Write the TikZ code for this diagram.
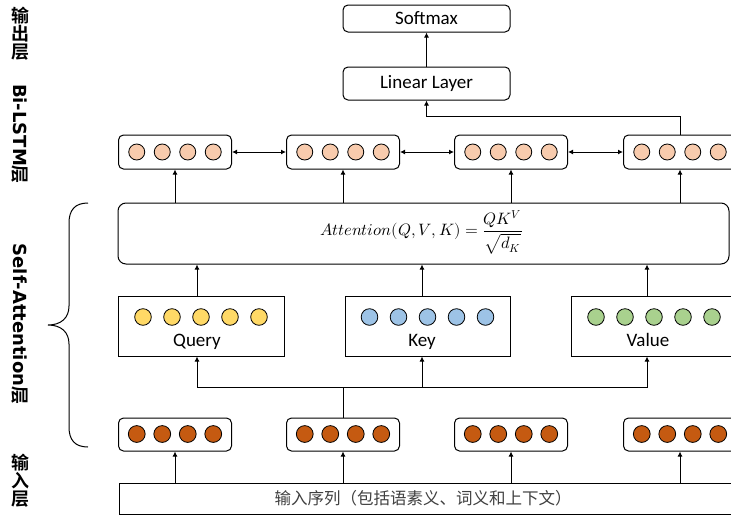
\documentclass[tikz,border=0pt]{standalone}
\usepackage{fontspec}
\usepackage{unicode-math}
\setmainfont{Carlito}
\setmathfont{Latin Modern Math}
\newfontfamily\cjk{Noto Sans CJK SC}
\newfontfamily\cjkb{Noto Sans CJK SC Bold}
\newfontfamily\sidelat{DejaVu Sans}
\usetikzlibrary{arrows.meta}

\definecolor{peach}{HTML}{F8CBAD}
\definecolor{qyel}{HTML}{FFD966}
\definecolor{kblue}{HTML}{9DC3E6}
\definecolor{vgreen}{HTML}{A9D18E}
\definecolor{emb}{HTML}{C55A11}
\definecolor{seqtext}{HTML}{404040}

\begin{document}
\begin{tikzpicture}[x=1pt,y=-1pt,
  line width=1pt,
  arr/.style={-{Latex[length=5pt,width=5pt]}},
  darr/.style={{Latex[length=5pt,width=5pt]}-{Latex[length=5pt,width=5pt]}},
  rbox/.style={draw, rounded corners=5pt, inner sep=0pt},
  sbox/.style={draw, inner sep=0pt},
  lbl/.style={font=\fontsize{19}{22}\selectfont},
  side/.style={font=\cjkb\fontsize{18}{18}\selectfont, inner sep=0pt},
  unit/.style={draw, line width=0.8pt},
]
\clip (0,0) rectangle (731,517);
\fill[white] (0,0) rectangle (731,517);

% output layer
\node[rbox, minimum width=167pt, minimum height=27pt, lbl] (soft) at (426.5,18.5) {Softmax};
\node[rbox, minimum width=167pt, minimum height=33pt, lbl] (lin) at (426.5,83.5) {Linear Layer};

% Bi-LSTM states
\foreach \i/\x in {1/175,2/343,3/511,4/680}{
  \node[rbox, minimum width=113pt, minimum height=34pt] (h\i) at (\x,152) {};
  \foreach \d in {-38.25,-12.75,12.75,38.25}
    \draw[unit, fill=peach] (\x+\d,152) circle (8pt);
}

% self-attention block
\node[rbox, rounded corners=8pt, minimum width=611pt, minimum height=61pt] (att) at (423.5,233.5) {};
\node[font=\fontsize{16.5}{18}\selectfont, inner sep=0pt] (form) at (421.5,232)
  {$\displaystyle Attention(Q,V,K)=\frac{QK^{V}}{\sqrt{d_K}}$};

% query / key / value
\node[sbox, minimum width=166pt, minimum height=60pt] (q) at (201,326) {};
\node[sbox, minimum width=165pt, minimum height=60pt] (k) at (427.5,326) {};
\node[sbox, minimum width=166pt, minimum height=60pt] (v) at (654,326) {};
\foreach \n/\x/\c in {q/201/qyel,k/427.5/kblue,v/654/vgreen}
  \foreach \d in {-58,-29,0,29,58}
    \draw[unit, fill=\c] (\x+\d,317) circle (8.3pt);
\node[lbl, inner sep=0pt, anchor=base] (ql) at (197,346) {Query};
\node[lbl, inner sep=0pt, anchor=base] (kl) at (422,346) {Key};
\node[lbl, inner sep=0pt, anchor=base] (vl) at (648,346) {Value};

% input embeddings
\foreach \i/\x in {1/175,2/343,3/511,4/680}{
  \node[rbox, minimum width=113pt, minimum height=33pt] (e\i) at (\x,434.5) {};
  \foreach \d in {-38.25,-12.75,12.75,38.25}
    \draw[unit, fill=emb] (\x+\d,434) circle (8.4pt);
}

% input sequence
\node[sbox, minimum width=621pt, minimum height=31pt] (seq) at (429.5,498.5) {};
\node[font=\cjk\fontsize{16.5}{18}\selectfont, text=seqtext, inner sep=0pt] (seqt) at (423,498.5)
  {输入序列（包括语素义、词义和上下文）};

% connectors
\draw[arr] (lin.north) -- (soft.south);
\draw[arr] (h4.north) -- ++(0,-18) -| (lin.south);
\draw[darr] (h1.east) -- (h2.west);
\draw[darr] (h2.east) -- (h3.west);
\draw[darr] (h3.east) -- (h4.west);
\foreach \i in {1,2,3,4}{
  \draw[arr] (att.north -| h\i) -- (h\i.south);
  \draw[arr] (seq.north -| e\i) -- (e\i.south);
}
\draw[arr] ([xshift=-4pt]q.north) -- ([xshift=-4pt]q.north |- att.south);
\draw[arr] ([xshift=-5.5pt]k.north) -- ([xshift=-5.5pt]k.north |- att.south);
\draw[arr] ([xshift=-7pt]v.north) -- ([xshift=-7pt]v.north |- att.south);

\coordinate (jn) at (343,387);
\draw (e2.north) -- (jn);
\draw[arr] (jn) -| ([xshift=-4pt]q.south);
\draw[arr] (jn) -| ([xshift=-5.5pt]k.south);
\draw[arr] (jn) -| ([xshift=-7pt]v.south);

% layer labels
\node[side, align=center] (lout) at (20,34) {输\\出\\层};
\node[side, rotate=-90] (lbil) at (20,134) {{\sidelat\bfseries Bi-LSTM}层};
\node[side, rotate=-90] (lsa) at (20,324) {{\sidelat\bfseries Self-Attention}层};
\node[side, align=center] (lin2) at (20,481) {输\\入\\层};

% brace spanning the self-attention layer
\draw (88,203) .. controls (75,203) and (69,210) .. (69,223) -- (69,306)
  .. controls (69,318) and (61,325) .. (48,325)
  .. controls (61,325) and (69,332) .. (69,344) -- (69,427)
  .. controls (69,440) and (75,447) .. (88,447);
\end{tikzpicture}
\end{document}
